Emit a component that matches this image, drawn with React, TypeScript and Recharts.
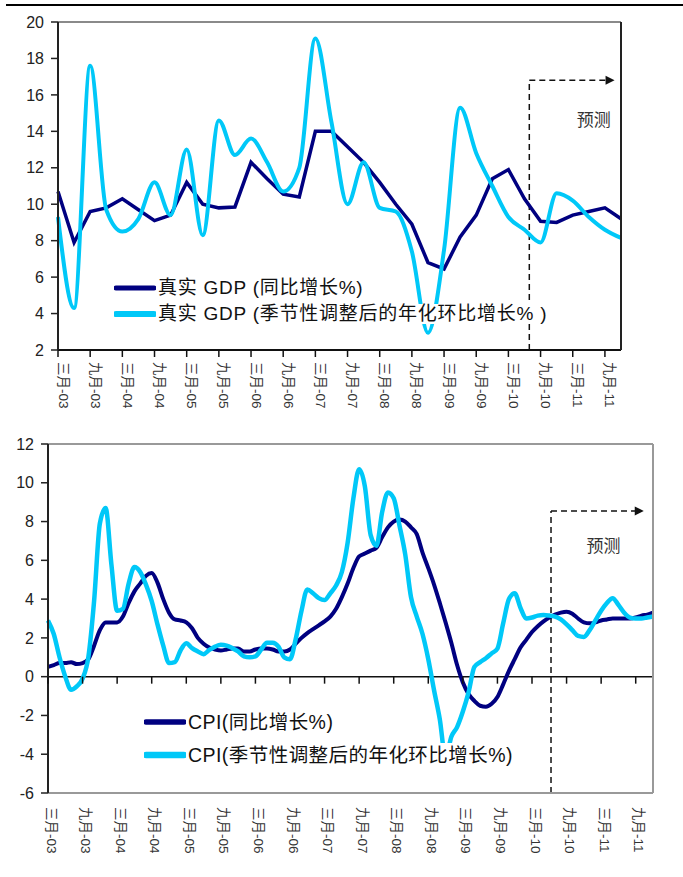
import React from "react";
import {
	Legend,
	Line,
	LineChart,
	ReferenceDot,
	ReferenceLine,
	XAxis,
	YAxis,
} from "recharts";

const FONT = '"Liberation Sans", Arial, "Noto Sans CJK SC", sans-serif';
const DARK = "#000080";
const LIGHT = "#00c8f8";

// categories
const years = ["03", "04", "05", "06", "07", "08", "09", "10", "11"];
const quarterNames = ["三月", "六月", "九月", "十二月"];
const monthNames = ["一月", "二月", "三月", "四月", "五月", "六月", "七月", "八月", "九月", "十月", "十一月", "十二月"];
const gdpQuarters = years.flatMap((y) => quarterNames.map((m) => `${m}-${y}`));
const cpiMonths = years.flatMap((y) => monthNames.map((m) => `${m}-${y}`)).slice(2);

// tick labels
const gdpTicks = [2, 4, 6, 8, 10, 12, 14, 16, 18, 20];
const cpiTicks = [-6, -4, -2, 0, 2, 4, 6, 8, 10, 12];

// 真实 GDP (同比增长%)
const gdpYoy = [
	10.7, 7.9, 9.6, 9.8, 10.3, 9.7, 9.1, 9.4, 11.2, 10.0, 9.8, 9.85,
	12.3, 11.4, 10.55, 10.4, 14.0, 14.0, 13.15, 12.3, 11.2, 10.0, 8.9, 6.8,
	6.45, 8.2, 9.4, 11.4, 11.9, 10.3, 9.06, 9.0, 9.4, 9.6, 9.8, 9.2,
];
// 真实 GDP (季节性调整后的年化环比增长%)
const gdpQoq = [
	9.3, 4.3, 17.6, 9.7, 8.5, 9.2, 11.2, 9.4, 13.0, 8.3, 14.6, 12.7,
	13.6, 12.3, 10.7, 12.0, 19.1, 14.5, 10.0, 12.3, 9.8, 9.6, 7.4, 2.95,
	7.5, 15.3, 12.8, 11.0, 9.3, 8.6, 7.9, 10.6, 10.2, 9.3, 8.6, 8.15,
];

// CPI(同比增长%)
const cpiYoy = [
	0.5, 0.6, 0.7, 0.7, 0.75, 0.65, 0.7, 0.9, 1.6, 2.4, 2.8, 2.8,
	2.8, 3.1, 3.8, 4.4, 4.8, 5.2, 5.35, 4.85, 4.0, 3.3, 2.95, 2.9,
	2.8, 2.5, 2.0, 1.7, 1.5, 1.4, 1.35, 1.4, 1.45, 1.45, 1.3, 1.3,
	1.4, 1.45, 1.45, 1.4, 1.3, 1.3, 1.4, 1.7, 2.0, 2.25, 2.45, 2.65,
	2.85, 3.1, 3.5, 4.1, 4.8, 5.6, 6.2, 6.35, 6.5, 6.65, 7.2, 7.7,
	8.0, 8.1, 8.0, 7.7, 7.35, 6.4, 5.6, 4.75, 3.8, 2.8, 1.75, 0.6,
	-0.3, -0.9, -1.25, -1.5, -1.55, -1.4, -1.05, -0.4, 0.3, 0.9, 1.5, 1.9,
	2.3, 2.6, 2.85, 3.05, 3.2, 3.3, 3.35, 3.25, 3.0, 2.8, 2.75, 2.8,
	2.9, 2.95, 3.0, 3.0, 3.0, 3.0, 3.05, 3.15, 3.2, 3.3,
];
// CPI(季节性调整后的年化环比增长%)
const cpiQoq = [
	2.9, 2.2, 1.0, 0.0, -0.68, -0.5, -0.1, 1.0, 3.9, 7.9, 8.7, 5.8,
	3.4, 3.5, 4.8, 5.65, 5.4, 4.75, 3.9, 2.7, 1.6, 0.7, 0.75, 1.35,
	1.72, 1.47, 1.3, 1.16, 1.38, 1.55, 1.64, 1.6, 1.47, 1.3, 1.05, 1.0,
	1.05, 1.4, 1.75, 1.75, 1.55, 1.0, 0.9, 1.95, 3.4, 4.5, 4.3, 4.05,
	3.95, 4.3, 4.7, 5.4, 6.9, 9.2, 10.7, 9.8, 7.3, 6.75, 8.5, 9.5,
	9.2, 7.8, 6.3, 4.1, 3.1, 2.2, 0.9, -0.7, -2.2, -4.2, -3.1, -2.6,
	-1.8, -0.8, 0.5, 0.75, 0.95, 1.2, 1.45, 2.75, 4.0, 4.3, 3.55, 3.0,
	3.05, 3.15, 3.18, 3.15, 3.1, 2.95, 2.7, 2.4, 2.1, 2.05, 2.4, 2.9,
	3.4, 3.8, 4.05, 3.7, 3.3, 3.05, 3.0, 3.0, 3.05, 3.1,
];

// forecast markers, in axis units (category index, value)
const gdpForecast = { start: 29.3, top: 16.8, end: 34.6, labelX: 33.3, labelY: 14.6 };
const cpiForecast = { start: 87.3, top: 8.55, end: 103.4, labelX: 96.4, labelY: 6.7 };

const gdpData = gdpQuarters.map((q, i) => ({ q, idx: i, yoy: gdpYoy[i], qoq: gdpQoq[i] }));
const cpiData = cpiMonths.map((m, i) => ({ m, idx: i, yoy: cpiYoy[i], qoq: cpiQoq[i] }));

// bottom chart plot box (for the tick marks on the zero line)
const CPI_TOP = 14;
const CPI_PLOT_H = 349;
const cpiZeroY = CPI_TOP + (12 / 18) * CPI_PLOT_H;

const VerticalTick = ({ x, y, payload, dx = 5 }: any) => (
	<g transform={`translate(${x + dx},${y}) rotate(90)`}>
		<text x={0} y={0} dominantBaseline="central" textAnchor="start" fontSize={13.5} fill="#333" fontFamily={FONT}>
			{payload.value}
		</text>
	</g>
);

const CpiTick = (p: any) => (
	<g>
		<line x1={p.x} x2={p.x} y1={cpiZeroY} y2={cpiZeroY + 7} stroke="#111" strokeWidth={1.5} />
		<VerticalTick {...p} dx={3} />
	</g>
);

const ArrowLine = (p: any) => (
	<g>
		<line x1={p.x1} y1={p.y1} x2={p.x2 - 7} y2={p.y2} stroke="#111" strokeWidth={1.5} strokeDasharray="6 4" />
		<path d={`M${p.x2},${p.y2} l-9,-4.5 v9 z`} fill="#111" />
	</g>
);

const ForecastText = (p: any) => (
	<text x={p.cx} y={p.cy} textAnchor="middle" dominantBaseline="central" fontSize={17} fill="#333" fontFamily={FONT}>
		预测
	</text>
);

const LegendRows = ({ payload, rowH, gap, fontSize, spacing, widths }: any) => (
	<div style={{ fontFamily: FONT }}>
		{(payload || []).map((e: any, i: number) => (
			<div
				key={i}
				style={{
					display: "flex",
					alignItems: "center",
					height: rowH,
					marginBottom: gap,
					background: "#fff",
					width: "fit-content",
				}}
			>
				<svg width={42} height={rowH}>
					<line x1={2} x2={40} y1={rowH / 2} y2={rowH / 2} stroke={e.color} strokeWidth={widths[i]} strokeLinecap="round" />
				</svg>
				<span style={{ fontSize, letterSpacing: spacing, color: "#111", whiteSpace: "nowrap", marginLeft: 2, lineHeight: `${rowH}px` }}>
					{e.value}
				</span>
			</div>
		))}
	</div>
);

export default function App() {
	return (
		<div style={{ position: "absolute", left: 0, top: 0, width: 683, height: 877, background: "#fff", fontFamily: FONT }}>
			<div style={{ position: "absolute", left: 6, top: 4, width: 677, height: 2, background: "#000" }} />

			<div style={{ position: "absolute", left: 0, top: 0 }}>
				<LineChart width={683} height={420} data={gdpData} margin={{ top: 22, right: 22, bottom: 10, left: 18 }}>
					<XAxis
						xAxisId="cat"
						dataKey="q"
						interval={1}
						height={60}
						tickSize={7}
						tickMargin={5}
						axisLine={{ stroke: "#111", strokeWidth: 2 }}
						tickLine={{ stroke: "#111", strokeWidth: 1.5 }}
						tick={(p: any) => <VerticalTick {...p} />}
					/>
					<XAxis xAxisId="num" dataKey="idx" type="number" domain={[0, gdpQuarters.length - 1]} hide />
					<YAxis
						yAxisId="left"
						domain={[2, 20]}
						ticks={gdpTicks}
						width={40}
						tickSize={7}
						tickMargin={7}
						axisLine={{ stroke: "#222", strokeWidth: 2 }}
						tickLine={{ stroke: "#222", strokeWidth: 1.5 }}
						tick={{ fontSize: 16, fill: "#222" }}
					/>
					<YAxis
						yAxisId="right"
						orientation="right"
						domain={[2, 20]}
						ticks={gdpTicks}
						width={40}
						tickSize={7}
						tickMargin={8}
						axisLine={{ stroke: "#222", strokeWidth: 2 }}
						tickLine={{ stroke: "#222", strokeWidth: 1.5 }}
						tick={{ fontSize: 16, fill: "#222" }}
					/>
					<ReferenceLine xAxisId="cat" yAxisId="left" y={20} stroke="#8a8a8a" strokeWidth={2} />
					<ReferenceLine
						xAxisId="num"
						yAxisId="left"
						segment={[{ x: gdpForecast.start, y: 2 }, { x: gdpForecast.start, y: gdpForecast.top }]}
						stroke="#111"
						strokeWidth={1.5}
						strokeDasharray="6 4"
					/>
					<ReferenceLine
						xAxisId="num"
						yAxisId="left"
						segment={[{ x: gdpForecast.start, y: gdpForecast.top }, { x: gdpForecast.end, y: gdpForecast.top }]}
						shape={(p: any) => <ArrowLine {...p} />}
					/>
					<ReferenceDot xAxisId="num" yAxisId="left" x={gdpForecast.labelX} y={gdpForecast.labelY} r={0} shape={(p: any) => <ForecastText {...p} />} />
					<Line xAxisId="cat" yAxisId="left" type="linear" dataKey="yoy" name="真实 GDP (同比增长%)" stroke={DARK} strokeWidth={3.5} dot={false} activeDot={false} isAnimationActive={false} />
					<Line xAxisId="cat" yAxisId="left" type="monotone" dataKey="qoq" name="真实 GDP (季节性调整后的年化环比增长% )" stroke={LIGHT} strokeWidth={4} dot={false} activeDot={false} isAnimationActive={false} />
					<Legend
						layout="vertical"
						align="center"
						verticalAlign="middle"
						wrapperStyle={{ left: 114, top: 278, width: 480 }}
						content={(p: any) => <LegendRows payload={p.payload} rowH={20} gap={6} fontSize={19} spacing={0.75} widths={[5, 6]} />}
					/>
				</LineChart>
			</div>

			<div style={{ position: "absolute", left: 0, top: 430 }}>
				<LineChart width={683} height={447} data={cpiData} margin={{ top: CPI_TOP, right: 20, bottom: 10, left: 8 }}>
					<XAxis
						xAxisId="cat"
						dataKey="m"
						interval={5}
						height={74}
						tickSize={0}
						tickMargin={14}
						axisLine={{ stroke: "#999", strokeWidth: 2 }}
						tickLine={false}
						tick={(p: any) => <CpiTick {...p} />}
					/>
					<XAxis xAxisId="num" dataKey="idx" type="number" domain={[0, cpiMonths.length - 1]} hide />
					<YAxis
						yAxisId="left"
						domain={[-6, 12]}
						ticks={cpiTicks}
						width={40}
						tickSize={7}
						tickMargin={7}
						axisLine={{ stroke: "#222", strokeWidth: 2 }}
						tickLine={{ stroke: "#222", strokeWidth: 1.5 }}
						tick={{ fontSize: 16, fill: "#222" }}
					/>
					<YAxis yAxisId="right" orientation="right" domain={[-6, 12]} width={10} tick={false} tickLine={false} axisLine={{ stroke: "#999", strokeWidth: 2 }} />
					<ReferenceLine xAxisId="cat" yAxisId="left" y={12} stroke="#999" strokeWidth={2} />
					<ReferenceLine xAxisId="cat" yAxisId="left" y={0} stroke="#111" strokeWidth={1.5} />
					<ReferenceLine
						xAxisId="num"
						yAxisId="left"
						segment={[{ x: cpiForecast.start, y: -6 }, { x: cpiForecast.start, y: cpiForecast.top }]}
						stroke="#111"
						strokeWidth={1.5}
						strokeDasharray="6 4"
					/>
					<ReferenceLine
						xAxisId="num"
						yAxisId="left"
						segment={[{ x: cpiForecast.start, y: cpiForecast.top }, { x: cpiForecast.end, y: cpiForecast.top }]}
						shape={(p: any) => <ArrowLine {...p} />}
					/>
					<ReferenceDot xAxisId="num" yAxisId="left" x={cpiForecast.labelX} y={cpiForecast.labelY} r={0} shape={(p: any) => <ForecastText {...p} />} />
					<Line xAxisId="cat" yAxisId="left" type="monotone" dataKey="yoy" name="CPI(同比增长%)" stroke={DARK} strokeWidth={4} dot={false} activeDot={false} isAnimationActive={false} />
					<Line xAxisId="cat" yAxisId="left" type="monotone" dataKey="qoq" name="CPI(季节性调整后的年化环比增长%)" stroke={LIGHT} strokeWidth={4.5} dot={false} activeDot={false} isAnimationActive={false} />
					<Legend
						layout="vertical"
						align="center"
						verticalAlign="middle"
						wrapperStyle={{ left: 144, top: 280, width: 420 }}
						content={(p: any) => <LegendRows payload={p.payload} rowH={24} gap={9} fontSize={19.5} spacing={0.45} widths={[5.5, 6.5]} />}
					/>
				</LineChart>
			</div>
		</div>
	);
}
